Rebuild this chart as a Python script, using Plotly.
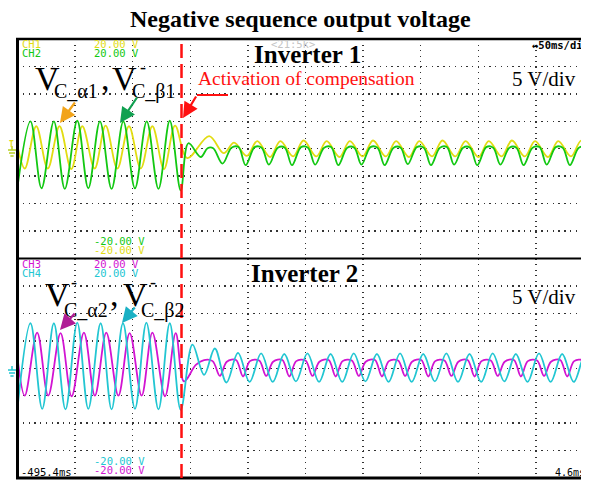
import plotly.graph_objects as go

# ---------------- data ----------------
# time in ms, voltage in V (5 V/div, ±20 V per panel)
ch1_t = [-495.4, -489.0, -479.1, -469.1, -458.9, -448.7, -439.1, -428.4, -418.9, -408.7,
         -398.6, -388.4, -378.3, -368.2, -358.6,
         -348.0, -329.0, -316.4, -307.4, -296.3, -287.3, -276.2, -267.2, -256.1, -247.1,
         -236.0, -227.0, -215.9, -206.9, -195.8, -186.8, -175.7, -166.7, -155.6, -146.6,
         -135.5, -126.5, -115.4, -106.4, -95.3, -86.3, -75.2, -66.2, -55.1, -46.1,
         -35.0, -26.0, -14.9, -5.9, 4.6]
ch1_v = [0.5, -3.6, 4.1, -3.6, 4.1, -3.7, 4.1, -3.6, 4.2, -3.6,
         4.1, -3.6, 4.1, -3.7, 4.2,
         -1.7, 2.3, -0.8, 1.1, -1.3, 1.4, -1.5, 1.4, -1.4, 1.5,
         -1.4, 1.4, -1.5, 1.4, -1.4, 1.5, -1.4, 1.4, -1.5, 1.4,
         -1.4, 1.5, -1.4, 1.4, -1.5, 1.4, -1.4, 1.5, -1.4, 1.4,
         -1.5, 1.4, -1.4, 1.5, -1.2]

ch2_t = [-495.4, -484.1, -474.5, -463.8, -454.3, -443.5, -433.9, -423.8, -413.7, -403.5,
         -393.4, -383.2, -373.0, -363.2, -353.7,
         -347.0, -336.3, -330.4, -325.5,
         -317.4, -309.6, -303.5, -297.3, -289.5, -283.4, -277.2, -269.4, -263.3,
         -257.1, -249.3, -243.2, -237.0, -229.2, -223.1, -216.9, -209.1, -203.0,
         -196.8, -189.0, -182.9, -176.7, -168.9, -162.8, -156.6, -148.8, -142.7,
         -136.5, -128.7, -122.6, -116.4, -108.6, -102.5, -96.3, -88.5, -82.4,
         -76.2, -68.4, -62.3, -56.1, -48.3, -42.2, -36.0, -28.2, -22.1,
         -15.9, -8.1, -2.0, 4.6]
ch2_v = [-7.0, 5.0, -7.2, 5.0, -7.3, 5.1, -7.2, 5.0, -7.3, 5.0,
         -7.2, 5.0, -7.3, 5.1, -7.6,
         1.0, -1.5, 0.1, 0.1,
         -2.7, 0.2, 0.3, -3.0, 0.3, 0.2, -2.9, 0.2, 0.2,
         -3.0, 0.3, 0.2, -2.9, 0.2, 0.3, -3.0, 0.2, 0.2,
         -2.9, 0.3, 0.2, -3.0, 0.2, 0.2, -2.8, 0.3, 0.2,
         -3.0, 0.2, 0.3, -2.9, 0.2, 0.2, -3.0, 0.3, 0.2,
         -2.9, 0.2, 0.2, -3.0, 0.2, 0.3, -2.9, 0.3, 0.2,
         -3.0, 0.2, 0.2, -2.4]

ch3_t = [-495.4, -489.1, -478.3, -468.7, -458.0, -448.4, -437.7, -428.2, -418.3, -407.8,
         -398.0, -387.6, -378.3, -367.3, -358.0,
         -350.8, -340.6, -333.4, -326.0,
         -319.7, -313.7, -305.7, -299.6, -293.6, -285.6, -279.5, -273.5, -265.5,
         -259.4, -253.4, -245.4, -239.3, -233.3, -225.3, -219.2, -213.2, -205.2,
         -199.1, -193.1, -185.1, -179.0, -173.0, -165.0, -158.9, -152.9, -144.9,
         -138.8, -132.8, -124.8, -118.7, -112.7, -104.7, -98.6, -92.6, -84.6,
         -78.5, -72.5, -64.5, -58.4, -52.4, -44.4, -38.3, -32.3, -24.3,
         -18.2, -12.2, -4.2, 1.9, 4.6]
ch3_v = [2.0, -5.0, 6.5, -5.0, 6.4, -5.1, 6.5, -5.0, 6.5, -5.0,
         6.4, -5.0, 6.5, -5.1, 6.4,
         -2.4, 0.6, 1.5, 1.3,
         -1.4, 1.2, 1.5, -1.5, 1.3, 1.4, -1.4, 1.2, 1.5,
         -1.5, 1.3, 1.4, -1.4, 1.2, 1.5, -1.5, 1.3, 1.4,
         -1.4, 1.2, 1.5, -1.5, 1.3, 1.4, -1.4, 1.2, 1.5,
         -1.5, 1.3, 1.4, -1.4, 1.2, 1.5, -1.5, 1.3, 1.4,
         -1.4, 1.2, 1.5, -1.5, 1.3, 1.4, -1.4, 1.2, 1.5,
         -1.5, 1.3, 1.4, -1.4, -0.2]

ch4_t = [-495.4, -484.1, -473.9, -463.8, -453.7, -443.5, -433.9, -423.2, -413.7, -403.8,
         -393.4, -383.5, -373.0, -363.2, -353.7,
         -343.5, -333.4,
         -324.1, -314.0, -304.0, -293.9, -283.9, -273.8, -263.8, -253.7, -243.7, -233.6,
         -223.6, -213.5, -203.5, -193.4, -183.4, -173.3, -163.3, -153.2, -143.2, -133.1,
         -123.1, -113.0, -103.0, -92.9, -82.9, -72.8, -62.8, -52.7, -42.7, -32.6,
         -22.6, -12.5, -2.5, 4.6]
ch4_v = [-7.3, 8.2, -7.4, 8.2, -7.5, 8.3, -7.4, 8.2, -7.5, 8.2,
         -7.4, 8.3, -7.5, 8.2, -7.6,
         4.3, -1.2,
         3.6, -2.6, 2.8, -2.5, 2.7, -2.5, 2.6, -2.4, 2.7, -2.5,
         2.6, -2.5, 2.7, -2.4, 2.6, -2.5, 2.7, -2.5, 2.6, -2.4,
         2.7, -2.5, 2.6, -2.5, 2.7, -2.4, 2.6, -2.5, 2.7, -2.5,
         2.6, -2.5, 2.6, -1.0]

activation_t = -353.0
time_start_label = "-495.4ms"
time_end_label = "4.6ms"
volt_top_label = "20.00 V"
volt_bottom_label = "-20.00 V"

# ---------------- styling ----------------
YEL, GRN, MAG, CYN = "#e2dc12", "#12c812", "#d214d2", "#22c6d2"
PAGE_OFF = 8                 # default body margin of the html page
W, H = 589 - PAGE_OFF, 482 - PAGE_OFF
L, T, B = 17 - PAGE_OFF, 39 - PAGE_OFF, 4
PW, PH = W - L, H - T - B
SERIF = "Liberation Serif, Times New Roman, serif"
MONO = "DejaVu Sans Mono, monospace"


def PX(x):
    # x given in page (screenshot) pixels
    return (x - 17) / PW


def PY(y):
    return (478 - y) / PH


fig = go.Figure()
tr = dict(mode="lines", line_shape="spline", hoverinfo="skip", showlegend=False)
fig.add_trace(go.Scatter(x=ch1_t, y=ch1_v, line=dict(color=YEL, width=1.8), xaxis="x", yaxis="y", **tr))
fig.add_trace(go.Scatter(x=ch2_t, y=ch2_v, line=dict(color=GRN, width=1.8), xaxis="x", yaxis="y", **tr))
fig.add_trace(go.Scatter(x=ch3_t, y=ch3_v, line=dict(color=MAG, width=1.8), xaxis="x2", yaxis="y2", **tr))
fig.add_trace(go.Scatter(x=ch4_t, y=ch4_v, line=dict(color=CYN, width=1.8), xaxis="x2", yaxis="y2", **tr))

xa = dict(range=[-495.8, 0.7], tickmode="linear", tick0=-495.4, dtick=50,
          showticklabels=False, ticks="", showgrid=True, gridcolor="#333333",
          gridwidth=1.4, griddash="1.4px,4.1px", zeroline=False, showline=False, fixedrange=True)
ya = dict(range=[-20, 20], tickmode="linear", tick0=0, dtick=5,
          showticklabels=False, ticks="", showgrid=True, gridcolor="#333333",
          gridwidth=1.4, griddash="1.4px,4.36px", zeroline=False, showline=False, fixedrange=True)

fig.update_layout(
    width=W, height=H,
    margin=dict(l=L, r=0, t=T, b=B, pad=0),
    paper_bgcolor="white", plot_bgcolor="white",
    xaxis=dict(xa, domain=[0, 1], anchor="y"),
    xaxis2=dict(xa, domain=[0, 1], anchor="y2", matches="x"),
    yaxis=dict(ya, domain=[0.5, 1], anchor="x"),
    yaxis2=dict(ya, domain=[0, 0.5], anchor="x2"),
    hovermode=False,
)

shapes = []
# frame
shapes.append(dict(type="line", xref="paper", yref="paper", x0=PX(16), x1=1.01, y0=1, y1=1,
                   line=dict(color="black", width=2.5)))
shapes.append(dict(type="line", xref="paper", yref="paper", x0=PX(16), x1=1.01, y0=0, y1=0,
                   line=dict(color="black", width=3)))
shapes.append(dict(type="line", xref="paper", yref="paper", x0=PX(16), x1=1.01, y0=0.5, y1=0.5,
                   line=dict(color="black", width=2)))
shapes.append(dict(type="line", xref="paper", yref="paper", x0=PX(17.5), x1=PX(17.5), y0=0, y1=1,
                   line=dict(color="black", width=3)))
# activation line
shapes.append(dict(type="line", xref="x", yref="paper", x0=activation_t, x1=activation_t, y0=0, y1=1,
                   line=dict(color="#ff1010", width=2.5, dash="14px,6px")))
# red arrow tail segment
shapes.append(dict(type="line", xref="paper", yref="paper", x0=PX(228), x1=PX(197), y0=PY(95), y1=PY(95),
                   line=dict(color="#ff1010", width=2)))


def ground(yc, color):
    out = []
    out.append(dict(type="line", xref="paper", yref="paper", x0=PX(12), x1=PX(12), y0=PY(yc - 3), y1=PY(yc + 1),
                    line=dict(color=color, width=1.5)))
    for dy, hw in [(1, 4), (4, 3), (7, 1.6)]:
        out.append(dict(type="line", xref="paper", yref="paper", x0=PX(12 - hw), x1=PX(12 + hw),
                        y0=PY(yc + dy), y1=PY(yc + dy), line=dict(color=color, width=1.5)))
    return out


shapes += ground(149, "#b8d020")
shapes += ground(369, CYN)
fig.update_layout(shapes=shapes)

ann = []


def text(x, y, s, size, color="black", family=SERIF, xanchor="left", yanchor="middle"):
    ann.append(dict(x=PX(x), y=PY(y), xref="paper", yref="paper", text=s, showarrow=False,
                    xanchor=xanchor, yanchor=yanchor, font=dict(family=family, size=size, color=color),
                    borderpad=0))


def arrow(hx, hy, tx, ty, color):
    ann.append(dict(x=PX(hx), y=PY(hy), xref="paper", yref="paper", text="", showarrow=True,
                    ax=tx - hx, ay=ty - hy, arrowhead=2, arrowsize=1.4, arrowwidth=2.2,
                    arrowcolor=color, standoff=0))


text(300, 19, "<b>Negative sequence output voltage</b>", 24, xanchor="center")
text(307, 55, "<b>Inverter 1</b>", 25, xanchor="center")
text(304, 273, "<b>Inverter 2</b>", 25, xanchor="center")
text(197, 78, "Activation of compensation", 19.5, color="#ff1010")
text(544, 79, "5 V/div", 21, xanchor="center")
text(544, 297, "5 V/div", 21, xanchor="center")

# channel readouts
text(21, 44, "CH1", 10.5, YEL, MONO)
text(21, 53, "CH2", 10.5, GRN, MONO)
text(93, 44, volt_top_label, 10.5, YEL, MONO)
text(93, 53, volt_top_label, 10.5, GRN, MONO)
text(93, 241, volt_bottom_label, 10.5, GRN, MONO)
text(93, 250, volt_bottom_label, 10.5, YEL, MONO)
text(21, 264, "CH3", 10.5, MAG, MONO)
text(21, 273, "CH4", 10.5, CYN, MONO)
text(93, 264, volt_top_label, 10.5, MAG, MONO)
text(93, 273, volt_top_label, 10.5, CYN, MONO)
text(93, 461, volt_bottom_label, 10.5, CYN, MONO)
text(93, 470, volt_bottom_label, 10.5, MAG, MONO)
text(20, 472, time_start_label, 10.5, "black", MONO)
text(586, 472, time_end_label, 10, "black", MONO, xanchor="right")
text(531, 45, "<b>↔50ms/div</b>", 10.5, "black", MONO)
text(270, 44, "<21:5k>", 10.5, "#c4c4c4", MONO)
text(11, 144, "<b>T</b>", 8, YEL, MONO, xanchor="center")

# signal names
text(34, 78.5, "V", 34)
text(53, 67, "-", 18, xanchor="center")
text(53, 91, "C_α1", 20)
text(100, 78.5, ",", 34)
text(111, 78.5, "V", 34)
text(143, 67, "-", 18, xanchor="center")
text(131, 91, "C_β1", 20)

text(44, 294, "V", 34)
text(74, 282, "-", 18, xanchor="center")
text(63, 310, "C_α2", 20)
text(109, 294, ",", 34)
text(122, 294, "V", 34)
text(153, 282, "-", 18, xanchor="center")
text(140, 310, "C_β2", 20)

arrow(60, 123, 76, 101, "#f2a41a")
arrow(120, 123, 138, 96, "#10a050")
arrow(183, 118, 197, 95, "#ff1010")
arrow(60, 330, 76, 312, "#b01c96")
arrow(122, 323, 136, 306, "#1ab0c4")

fig.update_layout(annotations=ann)
fig.write_html("out.html", config={"displayModeBar": False, "staticPlot": True})
